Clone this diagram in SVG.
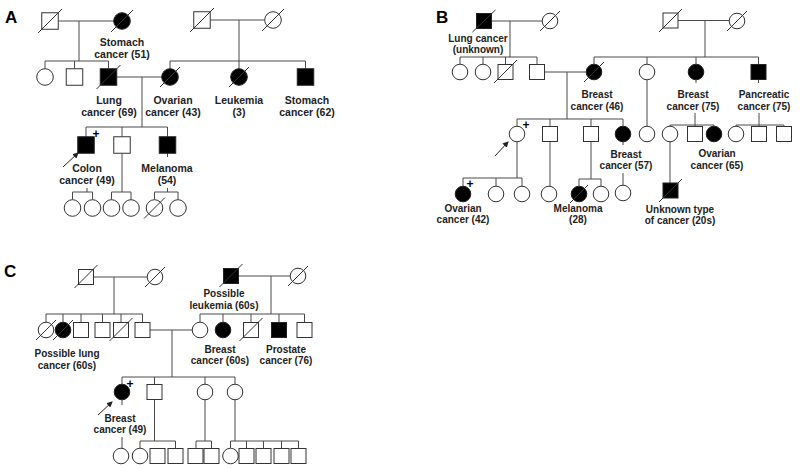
<svg xmlns="http://www.w3.org/2000/svg" width="800" height="469" viewBox="0 0 800 469">
<style>
.e{fill:#fff;stroke:#333;stroke-width:1}
.f{fill:#000;stroke:#222;stroke-width:1}
.d{stroke:#333;stroke-width:1}
.ln{fill:none;stroke:#4a4a4a;stroke-width:1}
.t{font-family:"Liberation Sans",Arial,sans-serif;font-weight:bold;fill:#222;text-anchor:middle}
.ta{font-size:10.5px}
.tb{font-size:10px}
.p{font-family:"Liberation Sans",Arial,sans-serif;font-weight:bold;font-size:17px;fill:#000}
.pl{font-family:"Liberation Sans",Arial,sans-serif;font-weight:bold;font-size:12px;fill:#000;text-anchor:middle}
.ar{stroke:#222;stroke-width:1}
</style>
<defs>
<marker id="ah" markerWidth="6" markerHeight="6" refX="5" refY="3" orient="auto" markerUnits="userSpaceOnUse">
<path d="M0,0 L6,3 L0,6 z" fill="#222"/>
</marker>
</defs>
<rect width="800" height="469" fill="#fff"/>

<text class="p" x="5" y="23">A</text>
<text class="p" x="436" y="23">B</text>
<text class="p" x="4" y="277">C</text>

<g id="connectors">
<!-- Panel A -->
<path class="ln" d="M58.3 21 H113.7 M79 21 V61 M45 61 H108.5 M45 61 V68.7 M74.5 61 V68.7 M108.5 61 V68.7"/>
<path class="ln" d="M210.3 20 H264.7 M239 20 V61 M170 61 H305.5 M170 61 V68.7 M239 61 V68.7 M305.5 61 V68.7"/>
<path class="ln" d="M116.8 77 H161.7 M142 77 V127 M86 127 H167.5 M86 127 V136.8 M122 127 V136.8 M167.5 127 V136.8"/>
<path class="ln" d="M87 188 V192 M72.5 192 H92.5 M72.5 192 V199.7 M92.5 192 V199.7"/>
<path class="ln" d="M122 153.3 V192 M111.5 192 H131 M111.5 192 V199.7 M131 192 V199.7"/>
<path class="ln" d="M167.5 153.3 V157 M167.5 188 V192 M154.5 192 H178 M154.5 192 V199.7 M178 192 V199.7"/>
<!-- Panel B -->
<path class="ln" d="M491.5 21 H542.2 M510 21 V57 M460 57 H537 M460 57 V64.2 M483 57 V64.2 M505.5 57 V64.5 M537 57 V64.5"/>
<path class="ln" d="M544.5 72 H586.2 M567 72 V119 M517 119 H623 M517 119 V126.2 M550 119 V126.5 M591 119 V126.5 M623 119 V126.2"/>
<path class="ln" d="M678 20.5 H729.2 M705 20.5 V57 M594 57 H758.5 M594 57 V64.2 M647 57 V64.2 M696 57 V64.2 M758.5 57 V64.5"/>
<path class="ln" d="M647 79.8 V126.2"/>
<path class="ln" d="M696 79.8 V83 M695 113 V125 M670 125 H714 M670 125 V126.2 M695 125 V126.5 M714 125 V126.2"/>
<path class="ln" d="M758.5 79.5 V83 M759 113 V125 M736 125 H784 M736 125 V126.2 M759 125 V126.5 M784 125 V126.5"/>
<path class="ln" d="M517 141.8 V178 M463 178 H522 M463 178 V186.2 M496 178 V186.2 M522 178 V186.2"/>
<path class="ln" d="M550 141.5 V186.2"/>
<path class="ln" d="M591 141.5 V179 M579 179 H601 M579 179 V186.2 M601 179 V186.2"/>
<path class="ln" d="M623 141.8 V145 M623 173 V185.2"/>
<path class="ln" d="M670 141.8 V183"/>
<!-- Panel C -->
<path class="ln" d="M93.5 277 H147.2 M114 277 V314 M46 314 H142.5 M46 314 V322.2 M63 314 V322.2 M81 314 V322.5 M102.5 314 V322.5 M121 314 V322.5 M142.5 314 V322.5"/>
<path class="ln" d="M150 330 H192.2 M172 330 V377"/>
<path class="ln" d="M238.5 276 H290.2 M271 276 V314 M200 314 H304.5 M200 314 V322.2 M223 314 V322.2 M251 314 V322.5 M279 314 V322.5 M304.5 314 V322.5"/>
<path class="ln" d="M122 377 H235 M122 377 V384.2 M154.5 377 V384.5 M205 377 V384.2 M235 377 V384.2"/>
<path class="ln" d="M122 399.8 V405 M122 437 V448.2"/>
<path class="ln" d="M154.5 399.5 V441 M140 441 H175.5 M140 441 V448.2 M175.5 441 V448.5"/>
<path class="ln" d="M205 399.8 V441 M196 441 H211.5 M196 441 V448.5 M211.5 441 V448.5"/>
<path class="ln" d="M235 399.8 V441 M230.5 441 H298.5 M230.5 441 V448.2 M246.5 441 V448.5 M263.5 441 V448.5 M281.5 441 V448.5 M298.5 441 V448.5"/>
<!-- proband arrows -->
<line class="ar" x1="63" y1="167" x2="78" y2="153" marker-end="url(#ah)"/>
<line class="ar" x1="495" y1="156" x2="508" y2="142" marker-end="url(#ah)"/>
<line class="ar" x1="98" y1="415" x2="112" y2="402" marker-end="url(#ah)"/>
</g>

<!-- ===== Panel A nodes ===== -->
<g id="A1"><rect class="e" x="41.75" y="12.75" width="16.5" height="16.5"/><line class="d" x1="38" y1="33" x2="62" y2="9"/></g>
<g id="A2"><circle class="f" cx="122" cy="21" r="8.3"/><line class="d" x1="111" y1="32" x2="133" y2="10"/></g>
<g id="A3"><rect class="e" x="193.75" y="11.75" width="16.5" height="16.5"/><line class="d" x1="190" y1="32" x2="214" y2="8"/></g>
<g id="A4"><circle class="e" cx="273" cy="20" r="8.3"/><line class="d" x1="262" y1="31" x2="284" y2="9"/></g>
<g id="A5"><circle class="e" cx="45" cy="77" r="8.3"/></g>
<g id="A6"><rect class="e" x="66.25" y="68.75" width="16.5" height="16.5"/></g>
<g id="A7"><rect class="f" x="100.25" y="68.75" width="16.5" height="16.5"/><line class="d" x1="96.5" y1="89" x2="120.5" y2="65"/></g>
<g id="A8"><circle class="f" cx="170" cy="77" r="8.3"/><line class="d" x1="160" y1="87" x2="180" y2="67"/></g>
<g id="A9"><circle class="f" cx="239" cy="77" r="8.3"/><line class="d" x1="229" y1="87" x2="249" y2="67"/></g>
<g id="A10"><rect class="f" x="297.25" y="68.75" width="16.5" height="16.5"/></g>
<g id="A11"><rect class="f" x="77.75" y="136.75" width="16.5" height="16.5"/><text class="pl" x="96" y="138">+</text></g>
<g id="A12"><rect class="e" x="113.75" y="136.75" width="16.5" height="16.5"/></g>
<g id="A13"><rect class="f" x="159.25" y="136.75" width="16.5" height="16.5"/></g>
<g id="A14"><circle class="e" cx="72.5" cy="208" r="8.3"/></g>
<g id="A15"><circle class="e" cx="92.5" cy="208" r="8.3"/></g>
<g id="A16"><circle class="e" cx="111.5" cy="208" r="8.3"/></g>
<g id="A17"><circle class="e" cx="131" cy="208" r="8.3"/></g>
<g id="A18"><circle class="e" cx="154.5" cy="208" r="8.3"/><line class="d" x1="144" y1="218.5" x2="165" y2="197.5"/></g>
<g id="A19"><circle class="e" cx="178" cy="208" r="8.3"/></g>

<g id="A-labels">
<text class="t ta" x="122" y="46">Stomach</text><text class="t ta" x="122" y="57.5">cancer (51)</text>
<text class="t ta" x="109" y="103.5">Lung</text><text class="t ta" x="109" y="115.5">cancer (69)</text>
<text class="t ta" x="173" y="103.5">Ovarian</text><text class="t ta" x="173" y="115.5">cancer (43)</text>
<text class="t ta" x="239" y="103.5">Leukemia</text><text class="t ta" x="239" y="115.5">(3)</text>
<text class="t ta" x="307" y="103.5">Stomach</text><text class="t ta" x="307" y="115.5">cancer (62)</text>
<text class="t ta" x="87" y="172">Colon</text><text class="t ta" x="87" y="184">cancer (49)</text>
<text class="t ta" x="167" y="172">Melanoma</text><text class="t ta" x="167" y="184">(54)</text>
</g>

<!-- ===== Panel B nodes ===== -->
<g id="B1"><rect class="f" x="476.5" y="13.5" width="15" height="15"/><line class="d" x1="472.5" y1="32" x2="495.5" y2="10"/></g>
<g id="B2"><circle class="e" cx="550" cy="21" r="7.8"/><line class="d" x1="540" y1="31" x2="560" y2="11"/></g>
<g id="B3"><circle class="e" cx="460" cy="72" r="7.8"/></g>
<g id="B4"><circle class="e" cx="483" cy="72" r="7.8"/></g>
<g id="B5"><rect class="e" x="498" y="64.5" width="15" height="15"/><line class="d" x1="494" y1="83" x2="517" y2="60"/></g>
<g id="B6"><rect class="e" x="529.5" y="64.5" width="15" height="15"/></g>
<g id="B7"><circle class="f" cx="594" cy="72" r="7.8"/><line class="d" x1="584" y1="82" x2="604" y2="62"/></g>
<g id="B8"><rect class="e" x="663" y="13" width="15" height="15"/><line class="d" x1="659" y1="32" x2="682" y2="9"/></g>
<g id="B9"><circle class="e" cx="737" cy="21" r="7.8"/><line class="d" x1="727" y1="31" x2="747" y2="11"/></g>
<g id="B10"><circle class="e" cx="647" cy="72" r="7.8"/></g>
<g id="B11"><circle class="f" cx="696" cy="72" r="7.8"/></g>
<g id="B12"><rect class="f" x="751" y="64.5" width="15" height="15"/></g>
<g id="B13"><circle class="e" cx="517" cy="134" r="7.8"/><text class="pl" x="526" y="129">+</text></g>
<g id="B14"><rect class="e" x="542.5" y="126.5" width="15" height="15"/></g>
<g id="B15"><rect class="e" x="583.5" y="126.5" width="15" height="15"/></g>
<g id="B16"><circle class="f" cx="623" cy="134" r="7.8"/></g>
<g id="B17"><circle class="e" cx="647" cy="134" r="7.8"/></g>
<g id="B18"><circle class="e" cx="670" cy="134" r="7.8"/></g>
<g id="B19"><rect class="e" x="687.5" y="126.5" width="15" height="15"/></g>
<g id="B20"><circle class="f" cx="714" cy="134" r="7.8"/></g>
<g id="B21"><circle class="e" cx="736" cy="134" r="7.8"/></g>
<g id="B22"><rect class="e" x="751.5" y="126.5" width="15" height="15"/></g>
<g id="B23"><rect class="e" x="776.5" y="126.5" width="15" height="15"/></g>
<g id="B24"><circle class="f" cx="463" cy="194" r="7.8"/><text class="pl" x="470" y="188">+</text></g>
<g id="B25"><circle class="e" cx="496" cy="194" r="7.8"/></g>
<g id="B26"><circle class="e" cx="522" cy="194" r="7.8"/></g>
<g id="B27"><circle class="e" cx="549" cy="194" r="7.8"/></g>
<g id="B28"><circle class="f" cx="579" cy="194" r="7.8"/><line class="d" x1="570" y1="203" x2="588" y2="185"/></g>
<g id="B29"><circle class="e" cx="601" cy="194" r="7.8"/></g>
<g id="B30"><circle class="e" cx="623" cy="193" r="7.8"/></g>
<g id="B31"><rect class="f" x="663" y="183" width="15" height="15"/><line class="d" x1="659" y1="202" x2="682" y2="179"/></g>

<g id="B-labels">
<text class="t tb" x="478" y="42">Lung cancer</text><text class="t tb" x="478" y="53">(unknown)</text>
<text class="t tb" x="597" y="98">Breast</text><text class="t tb" x="597" y="109.5">cancer (46)</text>
<text class="t tb" x="693" y="98">Breast</text><text class="t tb" x="693" y="109.5">cancer (75)</text>
<text class="t tb" x="764" y="98">Pancreatic</text><text class="t tb" x="764" y="109.5">cancer (75)</text>
<text class="t tb" x="626" y="157.5">Breast</text><text class="t tb" x="626" y="169">cancer (57)</text>
<text class="t tb" x="717" y="157">Ovarian</text><text class="t tb" x="717" y="168.5">cancer (65)</text>
<text class="t tb" x="680" y="213">Unknown type</text><text class="t tb" x="680" y="224">of cancer (20s)</text>
<text class="t tb" x="463" y="212">Ovarian</text><text class="t tb" x="463" y="223">cancer (42)</text>
<text class="t tb" x="578" y="212">Melanoma</text><text class="t tb" x="578" y="223">(28)</text>
</g>

<!-- ===== Panel C nodes ===== -->
<g id="C1"><rect class="e" x="78.5" y="269.5" width="15" height="15"/><line class="d" x1="74.5" y1="288" x2="97.5" y2="265"/></g>
<g id="C2"><circle class="e" cx="155" cy="277" r="7.8"/><line class="d" x1="145" y1="287" x2="165" y2="267"/></g>
<g id="C3"><circle class="e" cx="46" cy="330" r="7.8"/><line class="d" x1="36" y1="340" x2="56" y2="320"/></g>
<g id="C4"><circle class="f" cx="63" cy="330" r="7.8"/><line class="d" x1="53" y1="340" x2="73" y2="320"/></g>
<g id="C5"><rect class="e" x="73.5" y="322.5" width="15" height="15"/></g>
<g id="C6"><rect class="e" x="95" y="322.5" width="15" height="15"/></g>
<g id="C7"><rect class="e" x="113.5" y="322.5" width="15" height="15"/><line class="d" x1="109.5" y1="341" x2="132.5" y2="318"/></g>
<g id="C8"><rect class="e" x="135" y="322.5" width="15" height="15"/></g>
<g id="C9"><rect class="f" x="223.5" y="268.5" width="15" height="15"/><line class="d" x1="219.5" y1="287" x2="242.5" y2="264"/></g>
<g id="C10"><circle class="e" cx="298" cy="276" r="7.8"/><line class="d" x1="288" y1="286" x2="308" y2="266"/></g>
<g id="C11"><circle class="e" cx="200" cy="330" r="7.8"/></g>
<g id="C12"><circle class="f" cx="223" cy="330" r="7.8"/></g>
<g id="C13"><rect class="e" x="243.5" y="322.5" width="15" height="15"/><line class="d" x1="239.5" y1="341" x2="262.5" y2="318"/></g>
<g id="C14"><rect class="f" x="271.5" y="322.5" width="15" height="15"/></g>
<g id="C15"><rect class="e" x="297" y="322.5" width="15" height="15"/></g>
<g id="C16"><circle class="f" cx="122" cy="392" r="7.8"/><text class="pl" x="130" y="388">+</text></g>
<g id="C17"><rect class="e" x="147" y="384.5" width="15" height="15"/></g>
<g id="C18"><circle class="e" cx="205" cy="392" r="7.8"/></g>
<g id="C19"><circle class="e" cx="235" cy="392" r="7.8"/></g>
<g id="C20"><circle class="e" cx="121" cy="456" r="7.8"/></g>
<g id="C21"><circle class="e" cx="140" cy="456" r="7.8"/></g>
<g id="C22"><rect class="e" x="150" y="448.5" width="15" height="15"/></g>
<g id="C23"><rect class="e" x="168" y="448.5" width="15" height="15"/></g>
<g id="C24"><rect class="e" x="188" y="448.5" width="15" height="15"/></g>
<g id="C25"><rect class="e" x="204" y="448.5" width="15" height="15"/></g>
<g id="C26"><circle class="e" cx="230.5" cy="456" r="7.8"/></g>
<g id="C27"><rect class="e" x="239" y="448.5" width="15" height="15"/></g>
<g id="C28"><rect class="e" x="256" y="448.5" width="15" height="15"/></g>
<g id="C29"><rect class="e" x="274" y="448.5" width="15" height="15"/></g>
<g id="C30"><rect class="e" x="291" y="448.5" width="15" height="15"/></g>

<g id="C-labels">
<text class="t tb" x="67" y="357">Possible lung</text><text class="t tb" x="67" y="368.5">cancer (60s)</text>
<text class="t tb" x="224" y="297">Possible</text><text class="t tb" x="224" y="308.5">leukemia (60s)</text>
<text class="t tb" x="220" y="353">Breast</text><text class="t tb" x="220" y="364">cancer (60s)</text>
<text class="t tb" x="286" y="353">Prostate</text><text class="t tb" x="286" y="364">cancer (76)</text>
<text class="t tb" x="120" y="422">Breast</text><text class="t tb" x="120" y="433">cancer (49)</text>
</g>
</svg>
